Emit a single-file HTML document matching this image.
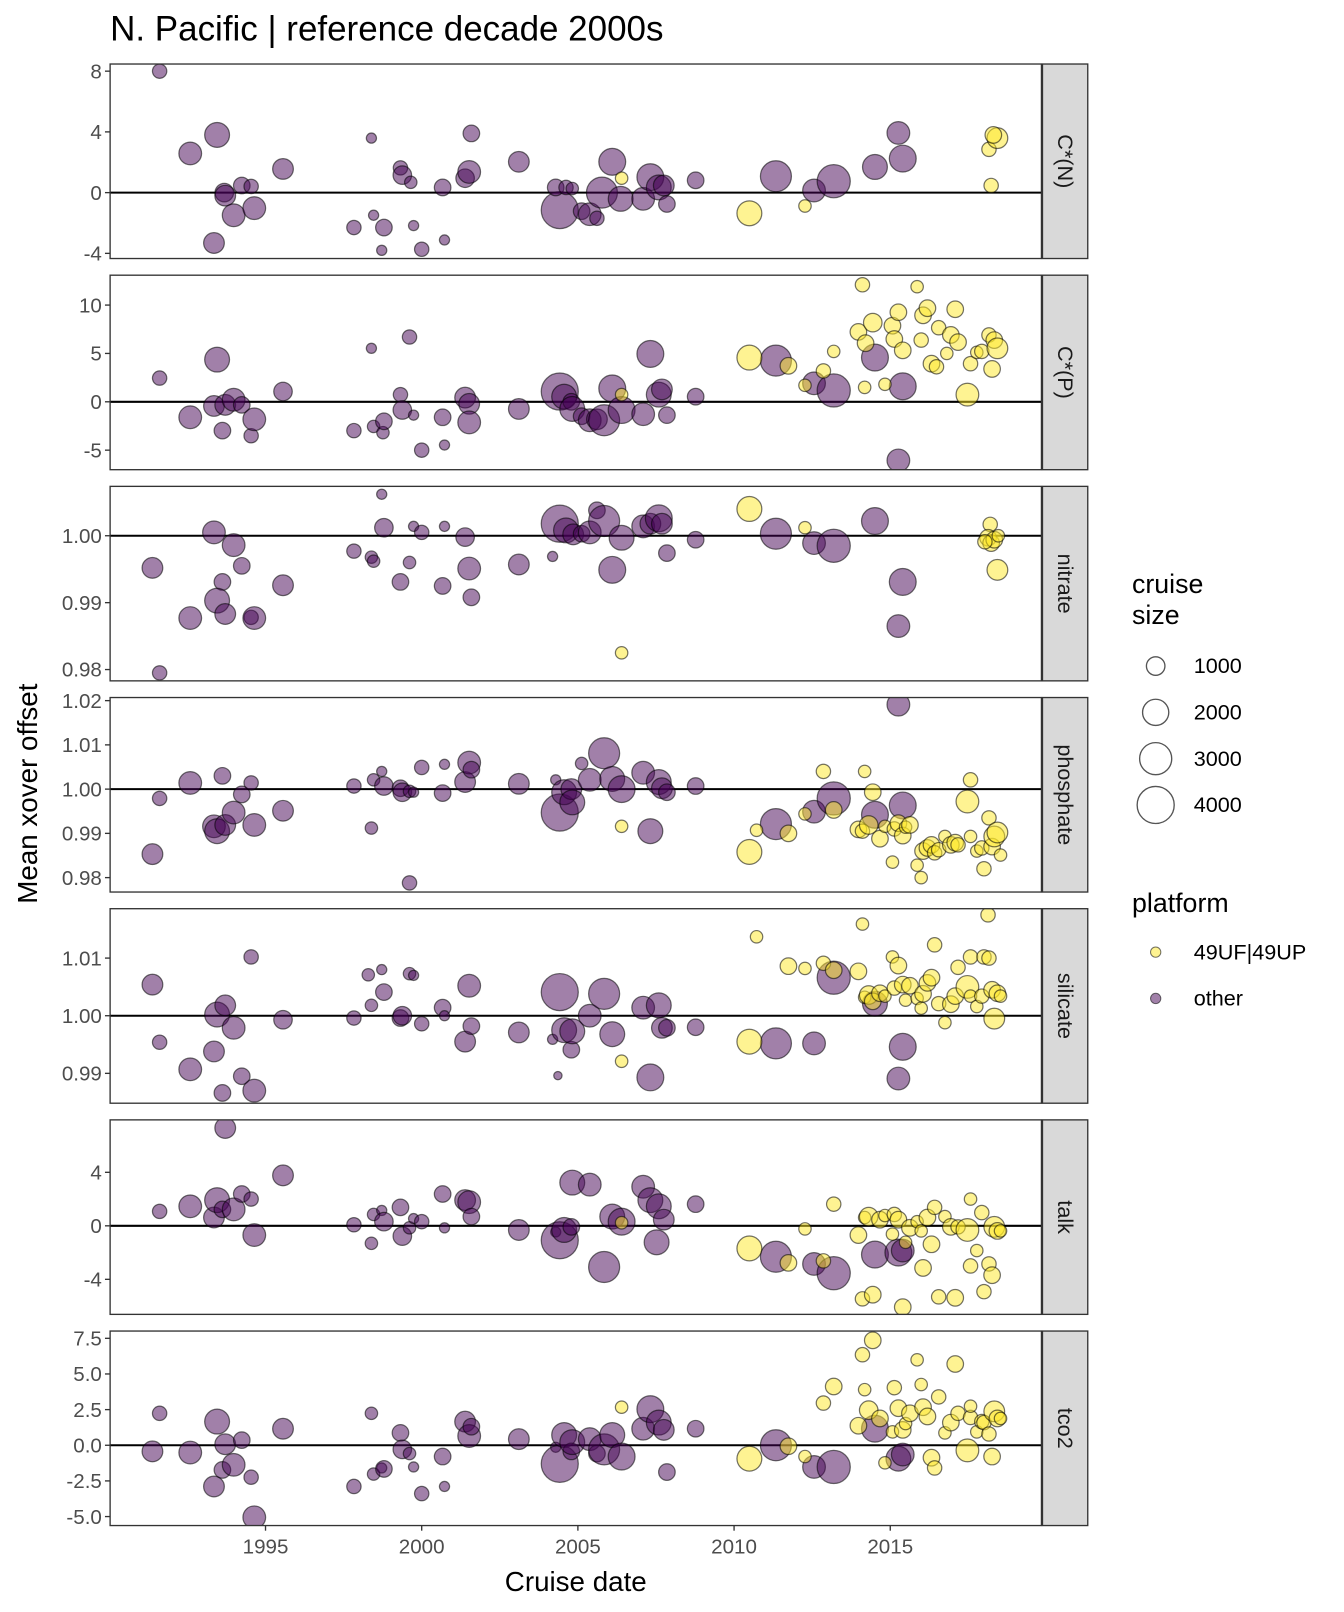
<!DOCTYPE html>
<html><head><meta charset="utf-8">
<style>
html,body{margin:0;padding:0;background:#fff;}
svg{display:block;font-family:"Liberation Sans",Arial,sans-serif;}
</style></head>
<body>
<svg id="chart" width="1344" height="1612" viewBox="0 0 1306 1566" xmlns="http://www.w3.org/2000/svg">
<text x="107" y="39" font-size="34" fill="#000">N. Pacific | reference decade 2000s</text>
<text x="559.5" y="1546" font-size="27" text-anchor="middle" fill="#000">Cruise date</text>
<text transform="translate(36,771) rotate(-90)" font-size="27" text-anchor="middle" fill="#000">Mean xover offset</text>
<g id="panels"></g>
<g>
<text x="1100" y="576" font-size="26" fill="#000">cruise</text>
<text x="1100" y="606" font-size="26" fill="#000">size</text>
<g id="sizeLegend"></g>
<text x="1100" y="886" font-size="26" fill="#000">platform</text>
<circle cx="1123" cy="925" r="5" fill="rgba(253,231,37,0.5)" stroke="rgba(0,0,0,0.55)"/>
<text x="1160" y="932" font-size="21" fill="#000">49UF|49UP</text>
<circle cx="1123" cy="970" r="5" fill="rgba(68,1,84,0.5)" stroke="rgba(0,0,0,0.55)"/>
<text x="1160" y="977" font-size="21" fill="#000">other</text>
</g>
</svg>
<script>
// x axis
const xTickYears = [1995, 2000, 2005, 2010, 2015];
const xDomain = [1990.025, 2019.84];
// panel labels, domains, ticks
const panelLabels = ["C*(N)", "C*(P)", "nitrate", "phosphate", "silicate", "talk", "tco2"];
const panelDomains = [[-4.34, 8.47], [-7.02, 13.09], [0.97831, 1.00738], [0.97674, 1.0207], [0.98482, 1.01857], [-6.62, 7.92], [-5.63, 8.01]];
const panelTicks = [[-4, 0, 4, 8], [-5, 0, 5, 10], [0.98, 0.99, 1.00], [0.98, 0.99, 1.00, 1.01, 1.02], [0.99, 1.00, 1.01], [-4, 0, 4], [-5, -2.5, 0, 2.5, 5, 7.5]];
const panelTickLabels = [["-4", "0", "4", "8"], ["-5", "0", "5", "10"], ["0.98", "0.99", "1.00"], ["0.98", "0.99", "1.00", "1.01", "1.02"], ["0.99", "1.00", "1.01"], ["-4", "0", "4"], ["-5.0", "-2.5", "0.0", "2.5", "5.0", "7.5"]];
const panelRefLine = [0, 0, 1, 1, 1, 0, 0];
const legendSizes = [1000, 2000, 3000, 4000];
// data: [year, value, cruise size, isGO-SHIP(1=49UF|49UP)]
const cnData = [[1991.61,8.0,600,0],[1992.59,2.58,1500,0],[1993.45,3.8,1800,0],[1993.35,-3.32,1250,0],[1993.68,0,1000,0],[1993.71,-0.2,1250,0],[1993.98,-1.49,1500,0],[1994.24,0.47,800,0],[1994.54,0.41,600,0],[1994.64,-1.02,1500,0],[1995.56,1.56,1250,0],[1998.39,3.59,300,0],[1997.83,-2.3,600,0],[1998.46,-1.49,300,0],[1998.79,-2.3,800,0],[1998.72,-3.8,300,0],[1999.32,1.63,600,0],[1999.38,1.15,1000,0],[1999.65,0.68,450,0],[1999.74,-2.17,300,0],[2000.0,-3.73,600,0],[2000.67,0.34,800,0],[2000.73,-3.12,300,0],[2001.59,3.9,800,0],[2001.39,0.95,1000,0],[2001.52,1.36,1500,0],[2003.11,2.03,1250,0],[2004.42,-1.15,4000,0],[2004.29,0.34,800,0],[2004.62,0.34,600,0],[2004.82,0.27,450,0],[2005.12,-1.22,800,0],[2005.38,-1.42,1500,0],[2005.61,-1.69,600,0],[2005.77,0,2800,0],[2006.1,2.03,2100,0],[2006.4,0.95,450,1],[2006.37,-0.41,1800,0],[2007.09,-0.41,1500,0],[2007.32,1.02,2100,0],[2007.59,0.34,1800,0],[2007.75,0.47,1250,0],[2007.85,-0.75,800,0],[2008.77,0.81,800,0],[2010.49,-1.36,1800,1],[2011.34,1.08,2800,0],[2012.27,-0.88,450,1],[2012.56,0.14,1500,0],[2013.19,0.75,3200,0],[2014.51,1.69,1800,0],[2015.26,3.93,1500,0],[2015.4,2.24,2100,0],[2018.16,2.85,600,1],[2018.43,3.59,1250,1],[2018.3,3.8,800,1],[2018.23,0.47,600,1]];
const cpData = [[1991.61,2.45,600,0],[1992.59,-1.6,1500,0],[1993.45,4.36,1800,0],[1993.35,-0.43,1250,0],[1993.62,-2.98,800,0],[1993.71,-0.32,1250,0],[1993.98,0.21,1500,0],[1994.24,-0.32,800,0],[1994.54,-3.51,600,0],[1994.64,-1.81,1500,0],[1995.56,1.06,1000,0],[1998.39,5.53,300,0],[1997.83,-2.98,600,0],[1998.46,-2.55,450,0],[1998.76,-3.19,450,0],[1998.79,-2.02,800,0],[1999.32,0.74,600,0],[1999.38,-0.85,1000,0],[1999.74,-1.38,300,0],[1999.61,6.7,600,0],[2000.0,-5.0,600,0],[2000.67,-1.6,800,0],[2000.73,-4.47,300,0],[2001.39,0.43,1250,0],[2001.52,-0.21,1250,0],[2001.52,-2.13,1500,0],[2003.11,-0.74,1250,0],[2004.42,1.06,4000,0],[2004.56,0.53,1800,0],[2004.79,0,800,0],[2004.82,-0.74,1800,0],[2005.12,-1.49,800,0],[2005.38,-1.91,1500,0],[2005.61,-1.81,1250,0],[2005.84,-1.91,2800,0],[2006.1,1.38,2100,0],[2006.4,-0.85,2100,0],[2006.4,0.74,450,1],[2007.09,-1.28,1500,0],[2007.32,4.95,2100,0],[2007.59,0.74,1800,0],[2007.69,1.28,1250,0],[2007.85,-1.38,800,0],[2008.77,0.53,800,0],[2011.34,4.26,2800,0],[2012.56,1.91,1500,0],[2013.19,1.17,3200,0],[2014.51,4.57,2100,0],[2015.4,1.6,2100,0],[2015.26,-6.06,1500,0],[2010.49,4.57,1800,1],[2011.74,3.72,800,1],[2012.27,1.7,450,1],[2012.86,3.19,600,1],[2013.19,5.21,450,1],[2014.11,12.1,600,1],[2014.18,1.49,450,1],[2013.98,7.23,800,1],[2014.44,8.19,1000,1],[2014.21,6.06,800,1],[2014.83,1.81,450,1],[2015.07,7.87,800,1],[2015.26,9.26,800,1],[2015.13,6.49,800,1],[2015.4,5.32,800,1],[2015.86,11.9,450,1],[2015.99,6.38,600,1],[2016.05,8.94,800,1],[2016.19,9.68,800,1],[2016.32,3.94,800,1],[2016.48,3.62,600,1],[2016.55,7.66,600,1],[2016.81,5.0,450,1],[2016.94,6.91,800,1],[2017.08,9.57,800,1],[2017.17,6.17,800,1],[2017.47,0.74,1500,1],[2017.57,3.94,600,1],[2017.77,5.11,450,1],[2017.93,5.21,600,1],[2018.16,6.91,600,1],[2018.26,3.4,800,1],[2018.33,6.38,800,1],[2018.43,5.53,1250,1]];
const nitData = [[1991.38,0.9952,1250,0],[1991.61,0.9795,600,0],[1992.59,0.9877,1500,0],[1993.35,1.0005,1500,0],[1993.62,0.9931,800,0],[1993.45,0.9903,1800,0],[1993.71,0.9883,1250,0],[1993.98,0.9986,1500,0],[1994.24,0.9955,800,0],[1994.54,0.9878,600,0],[1994.64,0.9877,1500,0],[1995.56,0.9926,1250,0],[1998.72,1.0062,300,0],[1997.83,0.9977,600,0],[1998.39,0.9968,450,0],[1998.46,0.9962,450,0],[1998.79,1.0012,1000,0],[1999.32,0.9931,800,0],[1999.61,0.996,450,0],[1999.74,1.0014,300,0],[2000.0,1.0005,600,0],[2000.67,0.9925,800,0],[2000.73,1.0014,300,0],[2001.39,0.9998,1000,0],[2001.52,0.9951,1500,0],[2001.59,0.9908,800,0],[2003.11,0.9957,1250,0],[2004.19,0.9969,300,0],[2004.42,1.0018,4000,0],[2004.62,1.0008,1800,0],[2004.85,1.0002,1250,0],[2005.12,1.0003,800,0],[2005.38,1.0005,1500,0],[2005.61,1.0038,800,0],[2005.84,1.0022,2800,0],[2006.1,0.9949,2100,0],[2006.4,0.9997,1800,0],[2006.4,0.9825,450,1],[2007.09,1.0014,1500,0],[2007.32,1.0018,1250,0],[2007.59,1.0026,2100,0],[2007.69,1.0018,1250,0],[2007.85,0.9974,800,0],[2008.77,0.9994,800,0],[2011.34,1.0003,2800,0],[2012.27,1.0012,450,1],[2012.56,0.9989,1500,0],[2013.19,0.9985,3200,0],[2014.51,1.0022,2100,0],[2015.4,0.9931,2100,0],[2015.26,0.9865,1500,0],[2010.49,1.004,1800,1],[2018.2,1.0017,600,1],[2018.13,0.9997,800,1],[2018.23,0.9989,800,1],[2018.33,0.9994,800,1],[2018.46,1.0,450,1],[2018.03,0.9991,600,1],[2018.43,0.9949,1250,1]];
const phoData = [[1991.38,0.9853,1250,0],[1991.61,0.9979,600,0],[1992.59,1.0014,1500,0],[1993.62,1.003,800,0],[1993.35,0.9916,1500,0],[1993.45,0.9905,1800,0],[1993.71,0.9919,1250,0],[1993.98,0.9947,1500,0],[1994.24,0.9988,800,0],[1994.54,1.0014,600,0],[1994.64,0.9919,1500,0],[1995.56,0.9951,1250,0],[1998.39,0.9912,450,0],[1997.83,1.0007,600,0],[1998.46,1.0021,450,0],[1998.72,1.004,300,0],[1998.79,1.0007,1000,0],[1999.32,1.0002,800,0],[1999.38,0.9993,1000,0],[1999.61,0.9995,450,0],[1999.74,0.9993,300,0],[1999.61,0.9788,600,0],[2000.0,1.0049,600,0],[2000.67,0.9991,800,0],[2000.73,1.0056,300,0],[2001.39,1.0016,1250,0],[2001.52,1.006,1500,0],[2001.59,1.0044,800,0],[2003.11,1.0012,1250,0],[2004.29,1.0021,300,0],[2004.42,0.9947,4000,0],[2004.56,0.9993,1800,0],[2004.79,1.0,1250,0],[2004.82,0.997,1800,0],[2005.12,1.0058,450,0],[2005.38,1.0021,1500,0],[2005.84,1.0081,2800,0],[2006.1,1.0023,1800,0],[2006.4,1.0,2100,0],[2006.4,0.9916,450,1],[2007.09,1.0037,1500,0],[2007.32,0.9905,1800,0],[2007.59,1.0016,1800,0],[2007.69,1.0002,1250,0],[2007.85,0.9993,800,0],[2008.77,1.0007,800,0],[2011.34,0.9921,2800,0],[2012.56,0.9949,1500,0],[2013.19,0.9979,3200,0],[2014.51,0.9942,2100,0],[2015.4,0.9963,2100,0],[2015.26,1.0191,1500,0],[2010.49,0.9858,1800,1],[2010.72,0.9907,450,1],[2011.74,0.99,800,1],[2012.27,0.9944,450,1],[2012.86,1.004,600,1],[2013.19,0.9953,800,1],[2014.18,1.004,450,1],[2014.44,0.9993,800,1],[2013.98,0.9909,800,1],[2014.11,0.9905,600,1],[2014.31,0.9919,1000,1],[2014.67,0.9888,800,1],[2014.83,0.9916,450,1],[2015.07,0.9835,450,1],[2015.13,0.991,600,1],[2015.26,0.9923,800,1],[2015.4,0.9895,800,1],[2015.49,0.9914,450,1],[2015.63,0.9919,800,1],[2015.86,0.9828,450,1],[2015.99,0.98,450,1],[2016.05,0.986,800,1],[2016.19,0.9867,800,1],[2016.32,0.9874,800,1],[2016.42,0.9856,600,1],[2016.55,0.9863,600,1],[2016.75,0.9893,450,1],[2016.94,0.9874,800,1],[2017.08,0.9879,800,1],[2017.17,0.9874,600,1],[2017.47,0.9972,1500,1],[2017.57,1.0021,600,1],[2017.57,0.9893,450,1],[2017.77,0.986,450,1],[2017.93,0.9867,600,1],[2018.0,0.982,600,1],[2018.16,0.9935,600,1],[2018.26,0.987,800,1],[2018.33,0.9893,1250,1],[2018.43,0.9902,1250,1],[2018.53,0.9851,450,1]];
const silData = [[1991.38,1.0054,1250,0],[1991.61,0.9954,600,0],[1992.59,0.9907,1500,0],[1993.62,0.9866,800,0],[1993.35,0.9938,1250,0],[1993.45,1.0002,1800,0],[1993.71,1.0018,1250,0],[1993.98,0.9979,1500,0],[1994.24,0.9895,800,0],[1994.54,1.0102,600,0],[1994.64,0.987,1500,0],[1995.56,0.9993,1000,0],[1997.83,0.9996,600,0],[1998.39,1.0018,450,0],[1998.29,1.0071,450,0],[1998.72,1.008,300,0],[1998.79,1.0041,800,0],[1999.32,0.9996,800,0],[1999.38,1.0,1000,0],[1999.61,1.0073,450,0],[1999.74,1.007,300,0],[2000.0,0.9986,600,0],[2000.67,1.0014,800,0],[2000.73,1.0,300,0],[2001.39,0.9955,1250,0],[2001.52,1.0052,1500,0],[2001.59,0.9982,800,0],[2003.11,0.9971,1250,0],[2004.19,0.9959,300,0],[2004.36,0.9896,200,0],[2004.42,1.0041,4000,0],[2004.56,0.9975,1800,0],[2004.79,0.9941,800,0],[2004.82,0.9973,1800,0],[2005.38,1.0,1500,0],[2005.84,1.0038,2800,0],[2006.1,0.9968,1800,0],[2006.4,0.9921,450,1],[2007.09,1.0014,1500,0],[2007.32,0.9893,2100,0],[2007.59,1.0018,1800,0],[2007.69,0.9979,1250,0],[2007.85,0.9979,800,0],[2008.77,0.998,800,0],[2011.34,0.9952,2800,0],[2012.56,0.9952,1500,0],[2013.19,1.0066,3200,0],[2014.51,1.0021,1800,0],[2015.4,0.9946,2100,0],[2015.26,0.9891,1500,0],[2010.49,0.9955,1800,1],[2010.72,1.0137,450,1],[2011.74,1.0086,800,1],[2012.27,1.0082,450,1],[2012.86,1.0091,600,1],[2013.19,1.0079,800,1],[2013.98,1.0077,800,1],[2014.11,1.0159,450,1],[2014.18,1.0032,450,1],[2014.31,1.0036,1000,1],[2014.44,1.0025,800,1],[2014.67,1.0039,800,1],[2014.83,1.0034,450,1],[2015.07,1.0102,450,1],[2015.13,1.0048,600,1],[2015.26,1.0087,800,1],[2015.4,1.0054,800,1],[2015.49,1.0027,450,1],[2015.63,1.0052,800,1],[2015.86,1.003,450,1],[2015.99,1.0013,450,1],[2016.05,1.0038,800,1],[2016.19,1.0057,800,1],[2016.32,1.0066,800,1],[2016.42,1.0123,600,1],[2016.55,1.0021,600,1],[2016.75,0.9988,450,1],[2016.94,1.002,800,1],[2017.08,1.0034,800,1],[2017.17,1.0084,600,1],[2017.47,1.005,1500,1],[2017.57,1.0102,600,1],[2017.57,1.0034,450,1],[2017.77,1.0016,450,1],[2017.93,1.0034,600,1],[2018.0,1.0102,600,1],[2018.13,1.0175,600,1],[2018.16,1.01,600,1],[2018.26,1.0045,800,1],[2018.33,0.9995,1250,1],[2018.43,1.0039,800,1],[2018.53,1.0034,450,1]];
const talkData = [[1991.61,1.08,600,0],[1992.59,1.46,1500,0],[1993.71,7.31,1250,0],[1993.35,0.62,1250,0],[1993.45,1.92,1800,0],[1993.62,1.23,800,0],[1993.98,1.23,1500,0],[1994.24,2.38,800,0],[1994.54,2.0,600,0],[1994.64,-0.69,1500,0],[1995.56,3.77,1250,0],[1997.83,0.08,600,0],[1998.39,-1.31,450,0],[1998.46,0.85,450,0],[1998.72,1.15,300,0],[1998.79,0.31,1000,0],[1999.32,1.38,800,0],[1999.38,-0.77,1000,0],[1999.61,-0.15,450,0],[1999.74,0.54,300,0],[2000.0,0.31,600,0],[2000.67,2.38,800,0],[2000.73,-0.15,300,0],[2001.39,1.92,1250,0],[2001.52,1.77,1500,0],[2001.59,0.69,800,0],[2003.11,-0.31,1250,0],[2004.29,-0.46,300,0],[2004.42,-1.08,4000,0],[2004.56,-0.31,1800,0],[2004.79,-0.08,800,0],[2004.82,3.23,1800,0],[2005.38,3.08,1500,0],[2005.84,-3.08,2800,0],[2006.1,0.69,1800,0],[2006.4,0.31,2100,0],[2006.4,0.23,450,1],[2007.09,2.92,1500,0],[2007.32,1.92,1800,0],[2007.52,-1.23,1800,0],[2007.59,1.46,1800,0],[2007.75,0.46,1250,0],[2008.77,1.62,800,0],[2011.34,-2.31,2800,0],[2012.56,-2.85,1500,0],[2013.19,-3.54,3200,0],[2014.51,-2.15,2100,0],[2015.26,-2.0,2100,0],[2015.4,-1.85,1500,0],[2010.49,-1.69,1800,1],[2011.74,-2.77,800,1],[2012.27,-0.23,450,1],[2012.86,-2.62,600,1],[2013.19,1.62,600,1],[2013.98,-0.69,800,1],[2014.11,-5.46,600,1],[2014.18,0.62,450,1],[2014.31,0.69,1000,1],[2014.44,-5.15,800,1],[2014.67,0.46,800,1],[2014.83,0.77,450,1],[2015.07,-0.62,450,1],[2015.13,0.85,600,1],[2015.26,0.46,800,1],[2015.4,-6.08,800,1],[2015.49,-1.23,450,1],[2015.63,-0.15,800,1],[2015.86,0.31,450,1],[2015.99,-0.38,450,1],[2016.05,-3.15,800,1],[2016.19,0.62,800,1],[2016.32,-1.38,800,1],[2016.42,1.38,600,1],[2016.55,-5.31,600,1],[2016.75,0.69,450,1],[2016.94,-0.08,800,1],[2017.08,-5.38,800,1],[2017.17,-0.08,600,1],[2017.47,-0.31,1500,1],[2017.57,-3.0,600,1],[2017.57,2.0,450,1],[2017.77,-1.85,450,1],[2017.93,0.99,600,1],[2018.0,-4.92,600,1],[2018.16,-2.85,600,1],[2018.26,-3.69,800,1],[2018.33,-0.08,1250,1],[2018.43,-0.38,800,1],[2018.53,-0.38,450,1]];
const tco2Data = [[1991.38,-0.43,1250,0],[1991.61,2.24,600,0],[1992.59,-0.51,1500,0],[1993.35,-2.89,1250,0],[1993.45,1.66,1800,0],[1993.62,-1.73,800,0],[1993.71,0.07,1250,0],[1993.98,-1.37,1500,0],[1994.24,0.36,800,0],[1994.54,-2.24,600,0],[1994.64,-5.05,1500,0],[1995.56,1.16,1250,0],[1997.83,-2.89,600,0],[1998.39,2.24,450,0],[1998.46,-2.02,450,0],[1998.72,-1.59,300,0],[1998.79,-1.66,800,0],[1999.32,0.87,800,0],[1999.38,-0.29,1000,0],[1999.61,-0.58,450,0],[1999.74,-1.52,300,0],[2000.0,-3.39,600,0],[2000.67,-0.79,800,0],[2000.73,-2.89,300,0],[2001.39,1.66,1250,0],[2001.52,0.65,1500,0],[2001.59,1.3,800,0],[2003.11,0.43,1250,0],[2004.29,-0.14,300,0],[2004.42,-1.3,4000,0],[2004.56,0.72,1800,0],[2004.79,-0.43,800,0],[2004.82,0.22,1800,0],[2005.38,0.43,1500,0],[2005.61,-0.58,800,0],[2005.84,-0.29,2800,0],[2006.1,0.72,1800,0],[2006.4,-0.79,2100,0],[2006.4,2.67,450,1],[2007.09,1.16,1500,0],[2007.32,2.53,2100,0],[2007.59,1.59,1800,0],[2007.75,1.08,1250,0],[2007.85,-1.88,800,0],[2008.77,1.16,800,0],[2011.34,0,2800,0],[2012.56,-1.52,1500,0],[2013.19,-1.52,3200,0],[2014.51,1.16,2100,0],[2015.26,-0.94,1800,0],[2015.4,-0.65,1500,0],[2010.49,-0.94,1800,1],[2011.74,-0.07,800,1],[2012.27,-0.79,450,1],[2012.86,2.96,600,1],[2013.19,4.12,800,1],[2013.98,1.37,800,1],[2014.11,6.35,600,1],[2014.18,3.9,450,1],[2014.31,2.46,1000,1],[2014.44,7.36,800,1],[2014.67,1.88,800,1],[2014.83,-1.23,450,1],[2015.07,0.94,450,1],[2015.13,4.04,600,1],[2015.26,2.6,800,1],[2015.4,1.08,800,1],[2015.49,1.52,450,1],[2015.63,2.24,800,1],[2015.86,5.99,450,1],[2015.99,4.26,450,1],[2016.05,2.67,800,1],[2016.19,2.02,800,1],[2016.32,-0.87,800,1],[2016.42,-1.59,600,1],[2016.55,3.39,600,1],[2016.75,0.87,450,1],[2016.94,1.59,800,1],[2017.08,5.7,800,1],[2017.17,2.24,600,1],[2017.47,-0.36,1500,1],[2017.57,1.95,600,1],[2017.57,2.74,450,1],[2017.77,0.94,450,1],[2017.93,1.66,600,1],[2018.0,1.59,600,1],[2018.16,0.79,600,1],[2018.26,-0.79,800,1],[2018.33,2.38,1250,1],[2018.43,1.88,800,1],[2018.53,1.88,450,1]];
const panelData = [cnData, cpData, nitData, phoData, silData, talkData, tco2Data];

const NS = "http://www.w3.org/2000/svg";
const PX0 = 107, PX1 = 1012, PH = 189, PSTEP = 205.2, PTOP = 62;
function xScale(yr) { return PX0 + (yr - xDomain[0]) / (xDomain[1] - xDomain[0]) * (PX1 - PX0); }
function yScale(p, v) { const d = panelDomains[p]; const top = PTOP + p * PSTEP; return top + PH - (v - d[0]) / (d[1] - d[0]) * PH; }
function rScale(s) { return 18 * Math.sqrt(s / 4000); }
function mk(tag, attrs, parent) { const e = document.createElementNS(NS, tag); for (const k in attrs) e.setAttribute(k, attrs[k]); parent.appendChild(e); return e; }

const root = document.getElementById('panels');
for (let p = 0; p < panelLabels.length; p++) {
  const top = PTOP + p * PSTEP;
  const g = mk('g', {}, root);
  
  
  const bg = mk('rect', {x: PX0, y: top, width: PX1 - PX0, height: PH, fill: '#fff'}, g);
  
  
  const ref = mk('line', {x1: PX0, x2: PX1, y1: yScale(p, panelRefLine[p]), y2: yScale(p, panelRefLine[p]), stroke: '#000', 'stroke-width': 2}, g);
  
  
  const clipId = 'clip' + p;
  const cp = mk('clipPath', {id: clipId}, g);
  mk('rect', {x: PX0, y: top, width: PX1 - PX0, height: PH}, cp);
  const pts = mk('g', {'clip-path': 'url(#' + clipId + ')'}, g);
  
  
  panelData[p].forEach(d => {
    const c = mk('circle', {cx: xScale(d[0]), cy: yScale(p, d[1]), r: rScale(d[2]), fill: d[3] ? 'rgba(253,231,37,0.5)' : 'rgba(68,1,84,0.5)', stroke: 'rgba(0,0,0,0.55)', 'stroke-width': 1.2}, pts);
    
    
  });
  const border = mk('rect', {x: PX0, y: top, width: PX1 - PX0, height: PH, fill: 'none', stroke: '#333', 'stroke-width': 1.3}, g);
  
  
  panelTicks[p].forEach((t, i) => {
    const y = yScale(p, t);
    const tk = mk('line', {x1: PX0 - 5, x2: PX0, y1: y, y2: y, stroke: '#333', 'stroke-width': 1.3}, g);
    
    
    const tl = mk('text', {x: PX0 - 8, y: y + 7, 'font-size': 20, 'text-anchor': 'end', fill: '#4d4d4d'}, g);
    
    
    tl.textContent = panelTickLabels[p][i];
  });
  const strip = mk('rect', {x: PX1 + 1, y: top, width: 44, height: PH, fill: '#d9d9d9', stroke: '#333', 'stroke-width': 1.3}, g);
  
  
  const st = mk('text', {transform: 'translate(' + (PX1 + 16) + ',' + (top + PH / 2) + ') rotate(90)', 'font-size': 21, 'text-anchor': 'middle', fill: '#1a1a1a'}, g);
  
  
  st.textContent = panelLabels[p];
}
const bottom = PTOP + 6 * PSTEP + PH;
xTickYears.forEach(yr => {
  const x = xScale(yr);
  const tk = mk('line', {x1: x, x2: x, y1: bottom, y2: bottom + 5, stroke: '#333', 'stroke-width': 1.3}, root);
  
  
  const tl = mk('text', {x: x, y: bottom + 27, 'font-size': 20, 'text-anchor': 'middle', fill: '#4d4d4d'}, root);
  
  
  tl.textContent = String(yr);
});
const sl = document.getElementById('sizeLegend');
legendSizes.forEach((s, i) => {
  const y = 647 + i * 45;
  const c = mk('circle', {cx: 1123, cy: y, r: rScale(s), fill: '#fff', stroke: '#555', 'stroke-width': 1.3}, sl);
  
  
  const t = mk('text', {x: 1160, y: y + 7, 'font-size': 21, fill: '#000'}, sl);
  
  
  t.textContent = String(s);
});
</script>
</body></html>
